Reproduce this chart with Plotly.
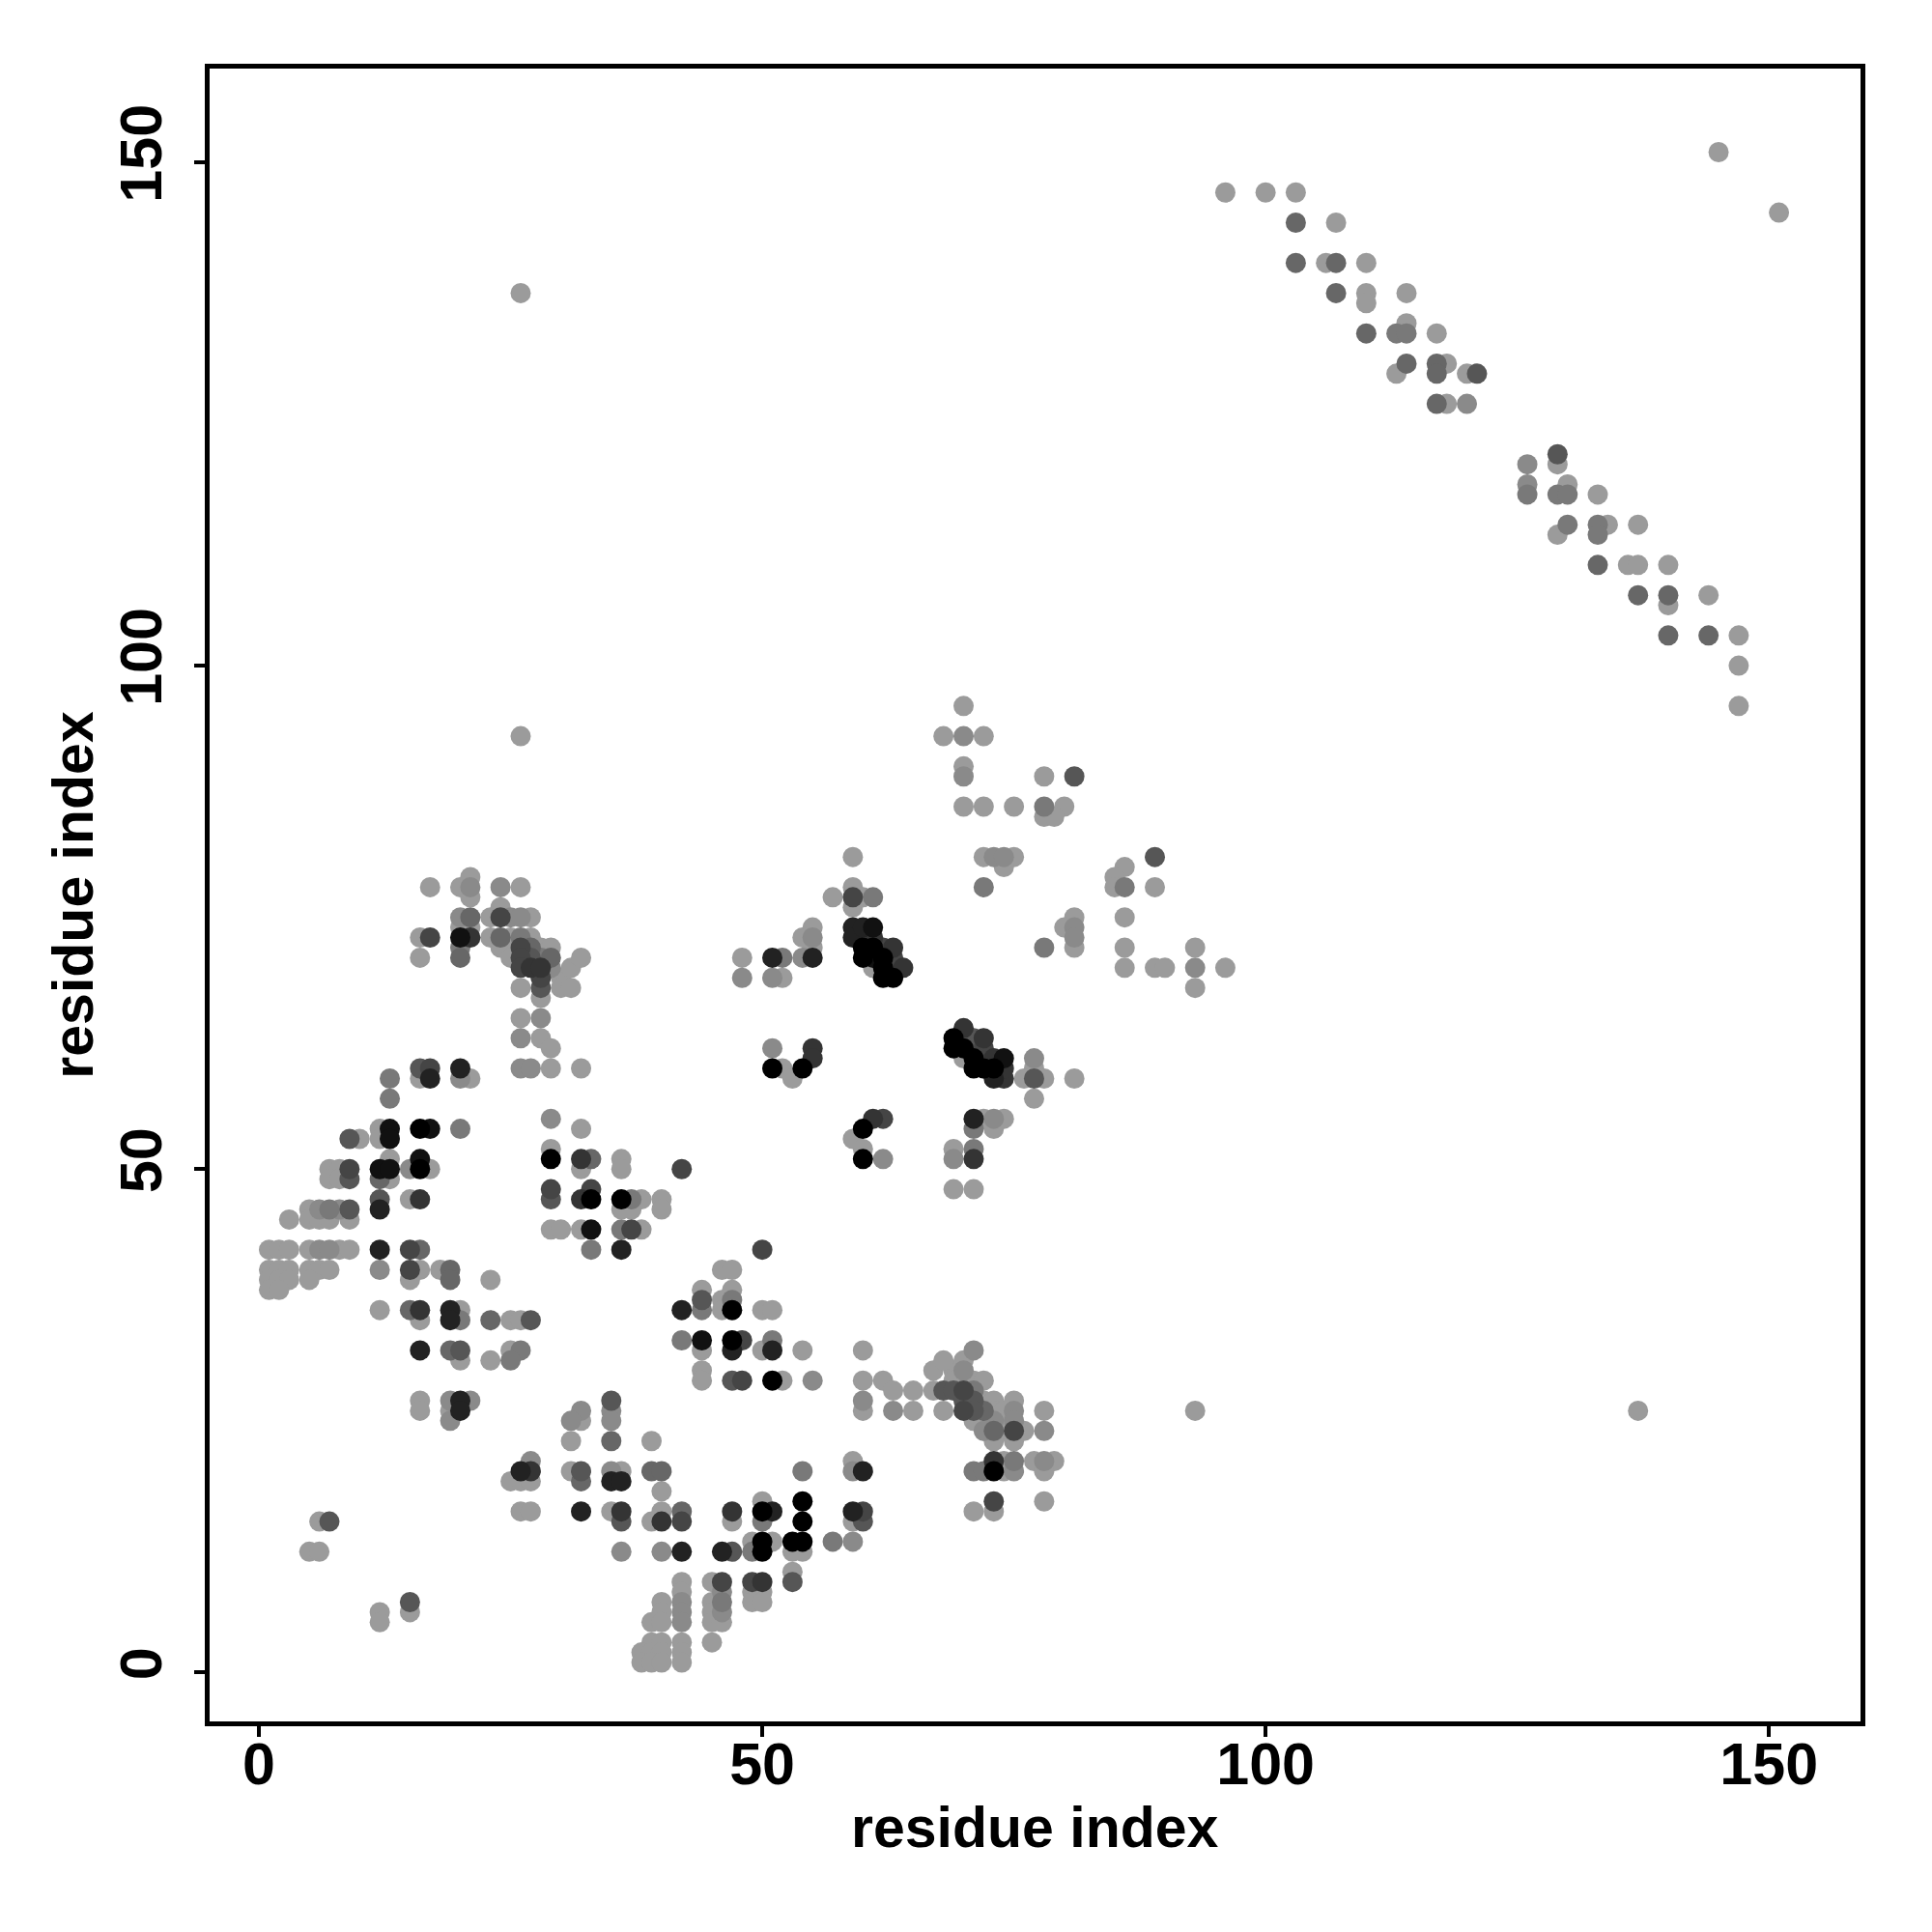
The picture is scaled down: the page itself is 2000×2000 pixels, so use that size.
import plotly.graph_objects as go

# residue pairs (i, j) and contact strength level (0 = weak/light grey ... 9 = strong/black)
res_i = []
res_j = []
strength = []

def add(points):
    for a, b, s in points:
        res_i.append(a); res_j.append(b); strength.append(s)

cluster_a = [
    (26,93,0),
    (17,78,0),(20,78,0),(21,79,0),(21,78,1),(21,77,0),(24,78,1),(26,78,0),
    (20,75,1),(21,75,3),(23,75,0),(24,76,0),(24,75,5),(25,75,1),(26,75,1),(27,75,0),
    (20,74,0),(21,74,0),
    (16,73,0),(17,73,5),(20,73,8),(21,73,6),(23,73,0),(24,73,3),
    (16,71,0),(20,72,2),(20,71,3),
    (24,72,0),(25,71,0),(26,72,5),(26,71,5),(26,70,5),(27,73,0),(25,73,0),(26,73,2),(27,72,3),(27,71,4),(27,70,6),
    (28,72,0),(28,71,2),(28,70,6),(28,69,5),(28,68,4),(29,72,0),(29,71,3),(29,70,1),
    (30,69,0),(30,68,0),(31,70,0),(31,68,0),(32,71,0),
    (26,68,0),(28,67,0),(26,65,0),(28,65,1),
    (26,63,1),(28,63,0),(29,62,0),(26,60,1),(27,60,1),(29,60,0),(32,60,0),
]
cluster_b = [
    (48,71,0),(48,69,1),(51,71,7),(52,71,2),(51,69,1),(52,69,0),(54,71,1),(55,71,7),
    (54,73,0),(55,74,0),(55,73,1),(55,72,0),
    (59,81,0),(57,77,0),(59,78,0),(59,77,5),(59,76,0),(60,77,0),(61,77,2),
    (59,74,7),(59,73,7),(60,74,7),(61,74,8),(60,72,9),(60,71,9),(61,73,6),(61,72,9),(61,71,8),
    (61,70,0),(62,72,5),(62,71,9),(62,70,9),(62,69,9),(63,72,6),(63,71,5),(63,69,9),(64,70,6),
]
cluster_c = [
    (70,96,0),(68,93,0),(70,93,1),(72,93,0),(70,90,0),(70,89,1),(70,86,0),(72,86,0),(75,86,0),
    (78,86,2),(80,86,0),(78,85,0),(79,85,0),(78,89,0),(81,89,4),
    (72,81,0),(73,81,1),(74,81,1),(75,81,0),(74,80,0),(72,78,2),(89,81,4),(86,80,0),(85,79,0),
    (85,78,0),(86,78,2),(89,78,0),(86,75,0),
    (78,72,2),(81,75,0),(81,74,1),(81,73,1),(81,72,0),(80,74,0),(86,72,0),(86,70,0),(89,70,0),
    (90,70,0),(93,72,0),(93,70,1),(93,68,0),(96,70,0),
]
cluster_d = [
    (16,60,4),(17,60,5),(16,59,0),(17,59,7),(20,60,7),(20,59,1),(21,59,0),(13,59,2),(13,57,2),
    (12,54,0),(13,54,8),(16,54,9),(17,54,8),(20,54,2),(13,53,8),(12,53,0),(9,53,4),(10,53,0),
    (13,51,0),(16,51,8),(16,50,9),(17,50,0),(15,50,1),(12,50,8),(13,50,8),(12,49,3),(13,49,0),
    (7,50,0),(8,50,0),(9,50,5),(7,49,0),(8,49,0),(9,49,4),
    (12,47,4),(12,46,7),(15,47,0),(16,47,6),
    (5,46,0),(6,46,1),(7,46,2),(8,46,1),(9,46,4),(3,45,0),(5,45,0),(6,45,0),(7,45,0),(9,45,0),
    (1,42,0),(2,42,0),(3,42,0),(5,42,0),(6,42,1),(7,42,1),(8,42,0),(9,42,0),(12,42,7),(15,42,5),(16,42,3),
    (1,40,0),(2,40,0),(3,40,0),(5,40,0),(6,40,0),(7,40,0),(12,40,1),(15,40,5),(16,40,0),(18,40,0),(19,40,3),(23,39,0),
    (1,39,0),(2,39,0),(3,39,0),(5,39,0),(15,39,0),(19,39,3),
    (1,38,0),(2,38,0),
    (12,36,0),(15,36,3),(16,36,6),(19,36,7),(20,36,0),
    (16,35,0),(19,35,7),(20,35,2),(23,35,3),(25,35,0),(26,35,0),(27,35,4),
    (16,32,7),(19,32,3),(20,32,4),(25,32,0),(26,32,2),(20,31,0),(23,31,0),(25,31,2),
    (29,55,1),(32,54,0),(29,52,0),(29,51,9),(32,51,6),(33,51,3),(32,50,0),(29,48,5),(29,47,4),
    (32,47,6),(33,48,5),(33,47,9),(29,44,0),(30,44,0),(32,44,0),(33,44,8),(33,42,2),
]
cluster_e = [
    (51,62,1),(51,60,9),(52,60,0),(53,59,0),(54,60,9),(55,62,6),(55,61,6),
    (61,55,6),(62,55,5),(60,54,9),(59,53,0),(60,52,0),(60,51,9),(62,51,1),
    (36,51,0),(36,50,0),(42,50,5),
    (36,47,9),(37,47,2),(38,47,0),(40,47,0),(36,46,0),(37,46,0),(40,46,0),
    (36,44,2),(37,44,5),(38,44,0),(36,42,7),
    (50,42,5),(46,40,0),(47,40,0),
    (44,38,0),(44,37,4),(44,36,2),(42,36,7),(46,37,0),(46,36,0),(47,38,0),(47,37,2),(47,36,9),(50,36,0),(51,36,0),
    (42,33,2),(44,33,8),(47,33,9),(48,33,5),(51,33,2),
    (44,32,0),(47,32,7),(50,32,0),(51,32,7),(54,32,0),(60,32,0),(44,30,0),
]
cluster_f = [
    (44,29,0),(47,29,4),(48,29,5),(51,29,9),(52,29,0),(55,29,1),(60,29,0),(62,29,0),(63,28,0),(65,28,0),
    (60,27,1),(60,26,0),(63,26,1),(65,26,0),
    (32,26,1),(32,25,0),(35,27,4),(35,26,1),(35,25,1),
    (35,23,3),(39,23,0),
    (32,20,4),(35,20,1),(36,20,0),(39,20,3),(40,20,3),(32,19,3),(35,19,7),(36,19,7),(40,18,0),
    (54,20,2),(59,21,0),(59,20,1),(60,20,7),
    (32,16,7),(35,16,0),(36,16,6),(40,16,0),(42,16,3),(47,16,6),(50,17,0),(50,16,9),(51,16,7),(54,17,9),(59,16,7),(60,16,5),
    (36,15,4),(39,15,0),(40,15,6),(42,15,5),(47,15,0),(50,15,2),(54,15,9),(59,15,0),(60,15,4),
    (49,13,0),(50,13,9),(51,13,0),(53,13,9),(54,13,9),(57,13,2),(59,13,1),
    (36,12,1),(40,12,1),(42,12,7),(46,12,7),(47,12,4),(49,12,2),(50,12,9),(53,12,0),(54,12,0),
    (53,10,0),(53,9,4),(42,9,0),(45,9,0),(46,9,5),(49,9,5),(50,9,6),
    (42,8,0),(46,8,1),(49,8,0),(50,8,0),
    (40,7,0),(42,7,1),(45,7,0),(46,7,2),(49,7,0),(50,7,0),
    (40,6,0),(42,6,1),(45,6,0),(46,6,1),
    (39,5,0),(40,5,0),(42,5,1),(45,5,0),(46,5,0),
    (45,3,0),(39,3,0),(40,3,0),(42,3,0),
    (38,2,0),(39,2,0),(40,2,0),(42,2,0),
    (38,1,0),(39,1,0),(40,1,0),(42,1,0),
]
cluster_g = [
    (16,27,0),(19,27,1),(20,27,7),(21,27,1),(16,26,0),(19,26,0),(20,26,7),(19,25,1),
    (31,25,1),(31,23,0),(31,20,0),
    (27,21,1),(26,20,7),(27,20,6),(25,19,0),(26,19,0),(27,19,0),(26,16,0),(27,16,0),
    (6,15,0),(7,15,4),(5,12,0),(6,12,0),(15,7,4),(15,6,0),(12,6,0),(12,5,0),
]
cluster_h = [
    (67,30,0),(69,30,0),(69,29,0),(70,30,1),(71,29,0),(72,29,0),
    (67,28,0),(68,28,4),(69,28,4),(70,28,5),(71,28,2),
    (70,27,4),(71,27,4),(72,27,0),(73,27,0),(75,27,0),
    (68,26,0),(70,26,5),(71,26,4),(72,26,3),(73,26,0),(74,26,0),(75,26,1),(78,26,0),
    (71,25,0),(72,25,0),(73,25,1),(74,25,0),(75,25,1),
    (72,24,1),(73,24,3),(74,24,0),(75,24,5),(76,24,0),(78,24,1),
    (73,23,0),(75,23,0),
    (73,21,6),(74,21,0),(75,21,2),(77,21,0),(78,21,1),(79,21,0),
    (71,20,2),(72,20,2),(73,20,9),(74,20,0),(75,20,1),(78,20,0),
    (73,17,5),(78,17,0),(71,16,0),(73,16,0),
    (93,26,0),(68,31,0),(70,31,0),(71,32,1),
]
cluster_i = [
    (69,63,9),(70,64,6),(69,62,9),(70,62,9),(71,63,4),(72,63,6),(71,61,9),(70,61,0),(72,62,5),
    (71,60,9),(72,60,9),(73,61,6),(74,61,8),(73,59,7),(74,59,6),(74,60,6),(73,60,9),
    (77,61,1),(77,60,0),(76,59,0),(77,59,4),(78,59,0),(81,59,0),(77,57,0),
    (71,55,7),(72,55,0),(73,55,1),(74,55,0),(71,54,2),(73,54,0),
    (69,52,0),(69,51,1),(71,52,2),(71,51,6),(69,48,0),(71,48,0),
]
cluster_j = [
    (96,147,0),(100,147,0),(103,147,0),(103,144,3),(107,144,0),(103,140,3),(106,140,0),(107,140,3),
    (110,140,0),(107,137,3),(110,137,0),(114,137,0),(110,136,0),(110,133,3),(113,133,2),(114,133,2),
    (117,133,0),(114,134,0),(114,130,3),(117,130,3),(118,130,0),(113,129,0),(117,129,3),(120,129,0),
    (121,129,4),(117,126,3),(118,126,0),(120,126,1),
    (129,121,4),(129,120,0),(126,120,1),(126,118,1),(126,117,2),(129,117,2),(130,118,0),(130,117,2),
    (133,117,0),(130,114,2),(129,113,0),(133,114,2),(133,113,2),(134,114,0),(137,114,0),(133,110,3),
    (136,110,0),(137,110,0),(140,110,0),(137,107,3),(140,107,3),(144,107,0),(140,106,0),(140,103,3),
    (144,103,3),(147,103,0),(147,100,0),(147,96,0),
    (145,151,0),(151,145,0),(26,137,0),(137,26,0),
]
for c in (cluster_a, cluster_b, cluster_c, cluster_d, cluster_e, cluster_f,
          cluster_g, cluster_h, cluster_i, cluster_j):
    add(c)

tick_vals = [0, 50, 100, 150]
tick_text = ["0", "50", "100", "150"]

# draw weaker contacts first so that strong (dark) contacts sit on top
order = sorted(range(len(res_i)), key=lambda k: strength[k])
xs = [res_i[k] for k in order]
ys = [res_j[k] for k in order]
cs = [strength[k] for k in order]

FONT = "Liberation Sans, Arial, Helvetica, sans-serif"

fig = go.Figure(go.Scatter(
    x=xs, y=ys, mode="markers",
    marker=dict(size=21, color=cs, cmin=0, cmax=9,
                colorscale=[[0, "rgb(155,155,155)"], [1, "rgb(0,0,0)"]],
                showscale=False, line=dict(width=0)),
    hoverinfo="x+y",
))

axis_common = dict(
    showgrid=False, zeroline=False, showline=True, linecolor="black", linewidth=5,
    mirror=True, ticks="outside", ticklen=11, tickwidth=4, tickcolor="black",
    tickvals=tick_vals, ticktext=tick_text,
    tickfont=dict(family=FONT, size=61, color="black", weight="bold"),
)
fig.update_xaxes(range=[-4.9, 159.1], ticklabelstandoff=-24, **axis_common)
fig.update_yaxes(range=[-4.85, 159.3], tickangle=-90, ticklabelstandoff=10, **axis_common)

# the page body adds an 8px offset, so margins are shifted accordingly
fig.update_layout(
    width=2000, height=2000,
    margin=dict(l=209, r=82, t=63, b=226),
    paper_bgcolor="white", plot_bgcolor="white",
    showlegend=False,
    annotations=[
        dict(text="residue index", x=0.5, y=-0.0643, xref="paper", yref="paper",
             xanchor="center", yanchor="middle", showarrow=False,
             font=dict(family=FONT, size=59, color="black", weight="bold")),
        dict(text="residue index", x=-0.083, y=0.5, xref="paper", yref="paper",
             xanchor="center", yanchor="middle", showarrow=False, textangle=-90,
             font=dict(family=FONT, size=59, color="black", weight="bold")),
    ],
)

fig.write_html("out.html")
